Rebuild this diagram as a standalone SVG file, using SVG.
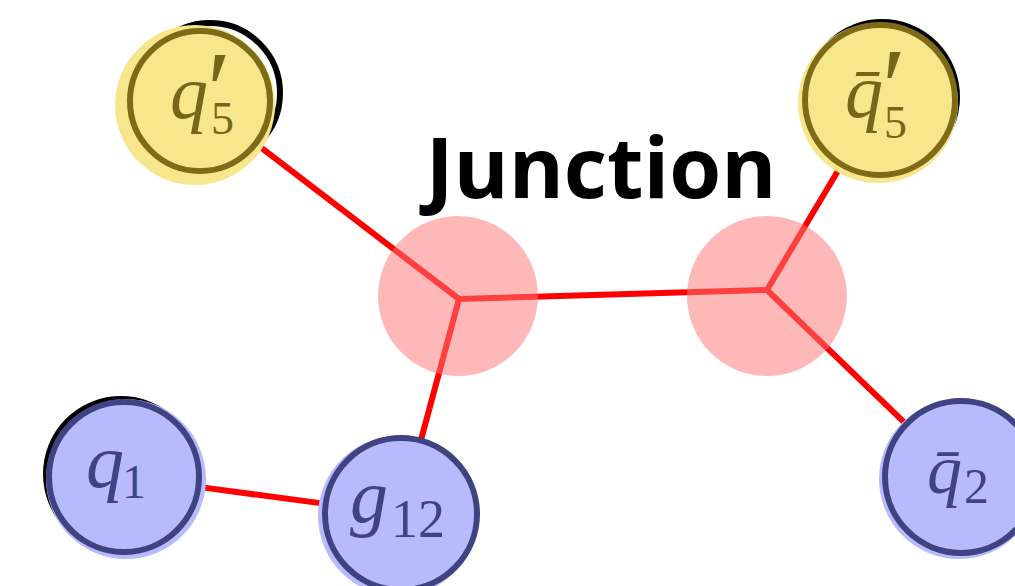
<svg xmlns="http://www.w3.org/2000/svg" width="1015" height="586" viewBox="0 0 1015 586">
  <style>
    .bond { stroke: #ff0000; stroke-width: 6; stroke-linecap: butt; fill: none; }
    .shadow { fill: none; stroke: #000000; stroke-width: 6; }
    .fillY { fill: #f8e68c; }
    .ringY { fill: none; stroke: #7d6b17; stroke-width: 6; }
    .fillB { fill: #b7bbfd; }
    .ringB { fill: none; stroke: #3f4382; stroke-width: 6; }
    .junction { fill: rgb(255,121,121); fill-opacity: 0.53; }
    .math { font-family: "Liberation Serif", "DejaVu Serif", serif; }
    .var { font-style: italic; }
    .labY { fill: #76661a; }
    .labB { fill: #3f4382; }
    .title { font-family: "Open Sans", "Noto Sans", sans-serif; font-weight: 700; font-size: 84px; fill: #000000; }
  </style>

  <!-- string segments -->
  <g id="connectors">
    <line class="bond" x1="255.6" y1="143.5" x2="459" y2="299"/>
    <line class="bond" x1="459" y1="299" x2="420.8" y2="440.6"/>
    <line class="bond" x1="459" y1="299" x2="767" y2="290"/>
    <line class="bond" x1="767" y1="290" x2="841.7" y2="164.5"/>
    <line class="bond" x1="767" y1="290" x2="906.3" y2="424.3"/>
    <line class="bond" x1="198.3" y1="486.9" x2="325.7" y2="503.9"/>
  </g>

  <!-- junction blobs -->
  <g id="junction-left">
    <circle class="junction" cx="458" cy="296" r="80"/>
  </g>
  <g id="junction-right">
    <circle class="junction" cx="767" cy="296" r="80"/>
  </g>

  <!-- quark q'5 -->
  <g id="node-q5p">
    <circle class="shadow" cx="210" cy="93" r="70"/>
    <circle class="fillY" cx="195" cy="105" r="80"/>
    <circle class="ringY" cx="200" cy="101" r="70"/>
    <text class="math labY" x="170" y="118" font-size="76"><tspan class="var">q</tspan><tspan x="207" y="127" font-size="110">′</tspan><tspan x="211" y="134" font-size="46">5</tspan></text>
  </g>

  <!-- antiquark q̄'5 -->
  <g id="node-qbar5p">
    <circle class="shadow" cx="882" cy="97" r="75"/>
    <circle class="fillY" cx="878" cy="103" r="80"/>
    <circle class="ringY" cx="880" cy="100" r="75"/>
    <text class="math labY" x="845" y="117" font-size="76"><tspan class="var">q̄</tspan><tspan x="882" y="124" font-size="110">′</tspan><tspan x="884" y="138" font-size="46">5</tspan></text>
  </g>

  <!-- quark q1 -->
  <g id="node-q1">
    <circle class="shadow" cx="121" cy="474" r="75"/>
    <circle class="fillB" cx="126" cy="479" r="80"/>
    <circle class="ringB" cx="124" cy="477" r="75"/>
    <text class="math labB" x="86" y="487" font-size="76"><tspan class="var">q</tspan><tspan x="122" y="498" font-size="48">1</tspan></text>
  </g>

  <!-- gluon g12 -->
  <g id="node-g12">
    <circle class="fillB" cx="398" cy="516" r="80"/>
    <circle class="ringB" cx="401" cy="514" r="76"/>
    <text class="math labB" x="350" y="522" font-size="76"><tspan class="var">g</tspan><tspan x="391" y="537" font-size="54">12</tspan></text>
  </g>

  <!-- antiquark q̄2 -->
  <g id="node-qbar2">
    <circle class="fillB" cx="959" cy="479" r="80"/>
    <circle class="ringB" cx="961" cy="477" r="76"/>
    <text class="math labB" x="927" y="493" font-size="70"><tspan class="var">q̄</tspan><tspan x="964" y="503" font-size="50">2</tspan></text>
  </g>

  <text class="title" x="601" y="198" text-anchor="middle">Junction</text>
</svg>
